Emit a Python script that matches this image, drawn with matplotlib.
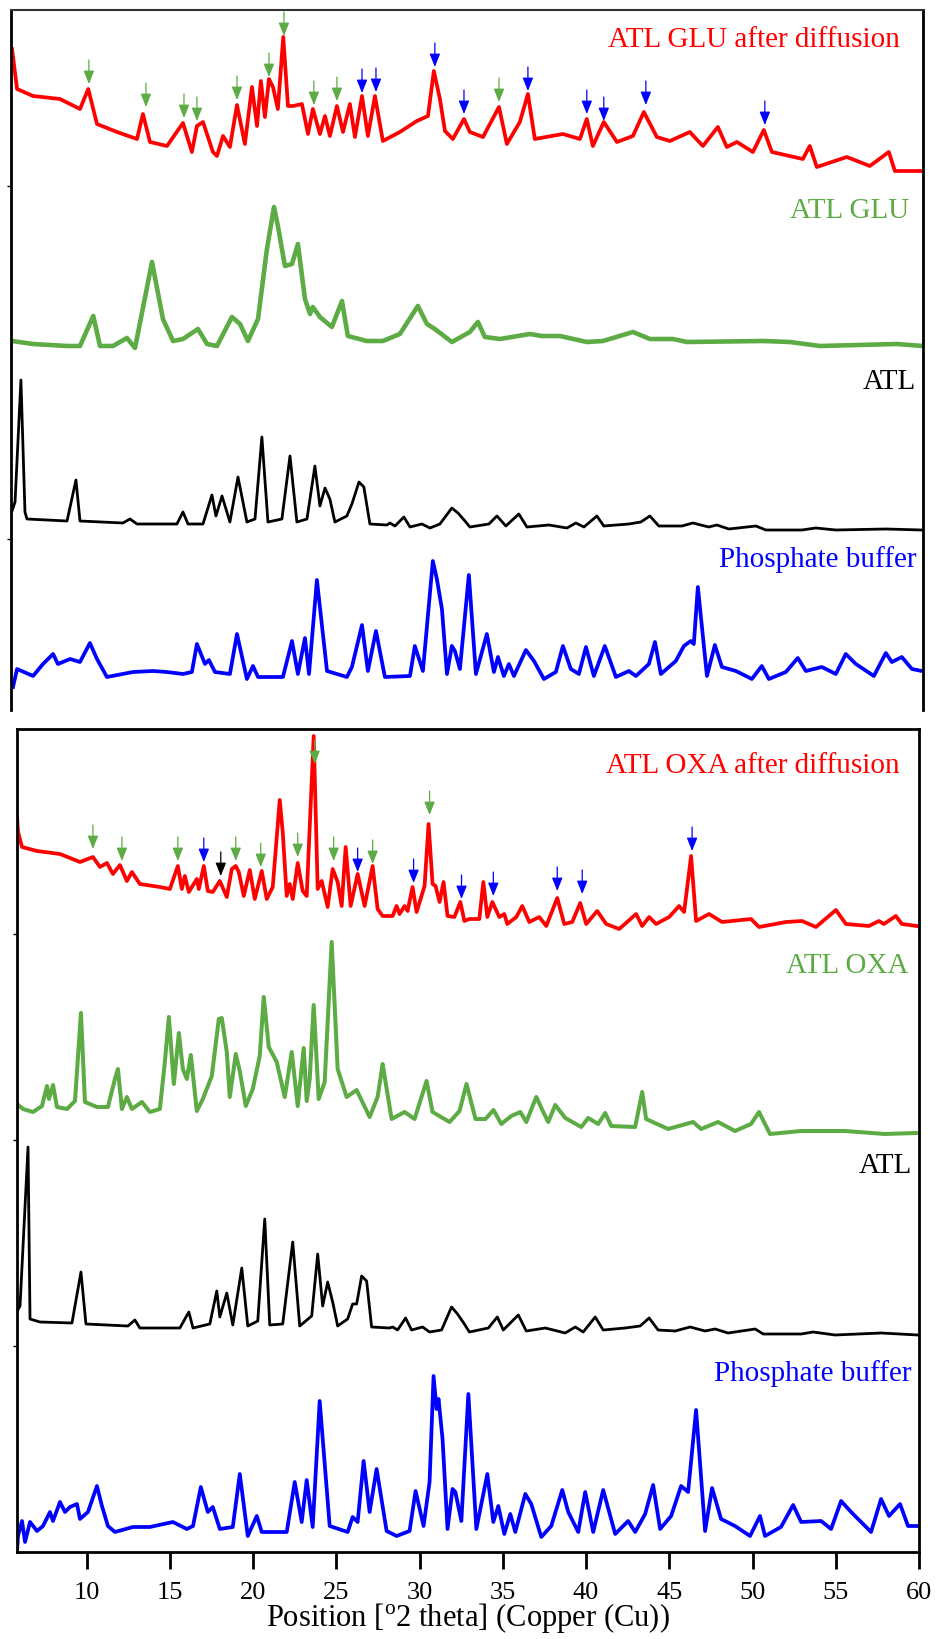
import numpy as np
import matplotlib.pyplot as plt

plt.rcParams['font.family'] = ['Liberation Serif', 'DejaVu Serif']
plt.rcParams['mathtext.fontset'] = 'custom'
plt.rcParams['mathtext.rm'] = 'Liberation Serif'

# shared 2theta axis
x_range = (5.8, 60)
x_ticks = [10, 15, 20, 25, 30, 35, 40, 45, 50, 55, 60]

# ---- top panel: (2theta, stacked intensity a.u.) ----
glu_after = [(5.86, 661), (6.16, 621), (7.11, 614), (8.71, 611), (9.90, 601), (10.39, 621), (10.91, 586),
             (12.10, 578), (13.29, 571), (13.64, 596), (14.06, 568), (15.07, 564), (16.02, 587), (16.55, 558),
             (16.85, 584), (17.21, 588), (17.80, 558), (18.04, 554), (18.40, 574), (18.81, 563), (19.23, 605),
             (19.70, 566), (20.12, 623), (20.42, 584), (20.65, 629), (20.89, 593), (21.13, 631), (21.37, 623),
             (21.66, 601), (21.98, 673), (22.26, 604), (22.56, 604), (23.09, 606), (23.45, 576), (23.74, 601),
             (24.16, 576), (24.46, 594), (24.75, 574), (25.17, 604), (25.53, 578), (25.94, 606), (26.24, 573),
             (26.66, 614), (27.01, 574), (27.43, 614), (27.90, 569), (28.91, 578), (29.92, 589), (30.58, 594),
             (30.93, 639), (31.29, 611), (31.59, 579), (32.06, 571), (32.72, 591), (33.07, 578), (33.85, 573),
             (34.80, 603), (35.27, 566), (36.04, 588), (36.52, 616), (36.93, 571), (38.60, 576), (39.61, 571),
             (40.02, 591), (40.38, 564), (41.03, 588), (41.81, 568), (42.76, 574), (43.41, 598), (44.18, 573),
             (44.96, 569), (46.14, 578), (46.92, 564), (47.81, 583), (48.34, 563), (48.94, 568), (49.89, 558),
             (50.54, 580), (51.02, 558), (52.86, 551), (53.27, 564), (53.69, 543), (55.47, 553), (56.84, 544),
             (57.97, 558), (58.33, 539), (59.99, 539)]

glu = [(5.86, 369), (7.11, 366), (9.13, 364), (9.90, 364), (10.69, 394), (11.09, 364), (11.86, 364), (12.69, 372),
       (13.17, 362), (14.18, 448), (14.83, 391), (15.43, 369), (16.02, 371), (16.91, 381), (17.45, 366), (18.04, 364),
       (18.93, 393), (19.41, 386), (19.88, 369), (20.48, 391), (21.01, 461), (21.43, 503), (21.66, 484), (22.08, 444),
       (22.50, 446), (22.85, 466), (23.27, 411), (23.57, 396), (23.74, 403), (24.16, 393), (24.87, 383), (25.47, 409),
       (25.82, 374), (26.95, 369), (27.90, 369), (28.91, 376), (29.98, 404), (30.52, 386), (30.99, 381), (32.00, 368),
       (33.07, 378), (33.55, 388), (33.96, 373), (34.86, 371), (36.64, 376), (37.35, 374), (38.42, 374), (40.02, 368),
       (40.98, 369), (42.76, 378), (43.77, 371), (45.13, 371), (45.97, 368), (50.48, 369), (52.09, 368), (53.87, 364),
       (58.45, 366), (59.99, 364)]

atl_top = [(5.86, 199), (6.04, 208), (6.39, 330), (6.63, 198), (6.75, 191), (9.13, 189), (9.66, 230), (9.90, 189),
           (12.45, 187), (12.87, 191), (13.29, 186), (15.66, 186), (16.02, 198), (16.32, 186), (17.21, 186),
           (17.74, 215), (17.98, 194), (18.34, 214), (18.81, 188), (19.29, 233), (19.82, 188), (20.30, 191),
           (20.71, 273), (21.07, 188), (21.90, 191), (22.38, 254), (22.79, 188), (23.39, 191), (23.86, 244),
           (24.16, 204), (24.46, 222), (24.75, 211), (25.05, 188), (25.76, 194), (26.06, 206), (26.48, 228),
           (26.77, 223), (27.13, 186), (28.14, 185), (28.32, 187), (28.62, 184), (29.15, 193), (29.51, 183),
           (30.22, 186), (30.70, 182), (31.29, 186), (32.00, 202), (32.36, 197), (32.78, 189), (33.07, 183),
           (34.20, 186), (34.68, 194), (35.21, 184), (35.98, 196), (36.46, 183), (37.77, 185), (38.84, 182),
           (39.37, 187), (39.85, 183), (40.62, 194), (41.03, 184), (42.52, 186), (43.23, 188), (43.77, 194),
           (44.30, 184), (45.67, 184), (46.32, 187), (47.27, 183), (47.75, 185), (48.46, 181), (50.07, 184),
           (50.66, 180), (52.80, 180), (53.63, 182), (54.82, 180), (57.79, 181), (59.93, 180)]

buffer_top = [(5.92, 23), (6.16, 41), (7.11, 34), (7.70, 46), (8.30, 56), (8.59, 46), (9.31, 51), (9.90, 48),
              (10.49, 67), (10.91, 51), (11.50, 33), (13.05, 38), (14.24, 39), (15.07, 38), (16.02, 36), (16.55, 38),
              (16.85, 66), (17.33, 46), (17.56, 50), (17.92, 38), (18.81, 36), (19.23, 76), (19.82, 31), (20.18, 44),
              (20.48, 33), (21.96, 33), (22.50, 69), (22.85, 36), (23.27, 72), (23.51, 36), (23.98, 130), (24.58, 39),
              (25.76, 33), (26.06, 43), (26.66, 85), (27.01, 39), (27.49, 79), (28.02, 33), (29.51, 34), (29.80, 64),
              (30.28, 39), (30.87, 149), (31.11, 131), (31.41, 101), (31.71, 36), (32.00, 64), (32.18, 59),
              (32.48, 41), (33.01, 135), (33.43, 36), (34.08, 76), (34.50, 38), (34.74, 53), (35.09, 34), (35.39, 46),
              (35.69, 34), (36.40, 60), (36.88, 49), (37.47, 31), (38.18, 38), (38.60, 64), (39.07, 41), (39.55, 36),
              (39.97, 63), (40.44, 34), (41.09, 64), (41.75, 33), (42.52, 39), (42.94, 34), (43.71, 46), (44.07, 68),
              (44.42, 36), (45.31, 49), (45.79, 64), (46.20, 69), (46.38, 66), (46.62, 123), (47.16, 34), (47.63, 65),
              (48.05, 43), (48.88, 39), (49.83, 31), (50.42, 44), (50.84, 31), (51.85, 38), (52.56, 52), (53.04, 39),
              (53.99, 43), (54.82, 36), (55.41, 56), (56.01, 46), (57.08, 34), (57.79, 57), (58.15, 48), (58.74, 53),
              (59.34, 41), (59.93, 39)]

# ---- bottom panel ----
oxa_after = [(5.82, 736), (5.88, 720), (6.12, 705), (7.02, 701), (8.40, 698), (9.60, 690), (10.38, 695), (10.80, 685),
             (11.22, 689), (11.58, 678), (12.00, 687), (12.42, 671), (12.72, 680), (13.20, 668), (14.40, 665),
             (15.00, 663), (15.48, 686), (15.72, 663), (15.90, 676), (16.14, 660), (16.62, 673), (16.74, 663),
             (17.04, 686), (17.28, 661), (17.58, 660), (18.00, 671), (18.42, 655), (18.72, 683), (18.96, 686),
             (19.14, 680), (19.44, 656), (19.80, 682), (20.10, 653), (20.52, 681), (20.82, 653), (21.18, 665),
             (21.60, 752), (21.78, 720), (22.02, 656), (22.20, 668), (22.38, 653), (22.68, 689), (22.98, 661),
             (23.22, 656), (23.64, 816), (23.88, 663), (24.12, 671), (24.48, 645), (24.78, 683), (25.08, 670),
             (25.32, 646), (25.56, 705), (25.86, 646), (26.28, 678), (26.70, 646), (27.18, 686), (27.48, 643),
             (27.78, 636), (28.38, 636), (28.62, 646), (28.80, 638), (29.10, 646), (29.28, 641), (29.58, 665),
             (29.82, 640), (30.30, 666), (30.54, 728), (30.78, 668), (30.96, 666), (31.20, 650), (31.44, 670),
             (31.68, 636), (32.09, 635), (32.45, 650), (32.69, 631), (32.99, 633), (33.59, 633), (33.83, 670),
             (34.07, 635), (34.37, 650), (34.79, 635), (35.09, 638), (35.27, 628), (35.81, 635), (36.17, 646),
             (36.59, 630), (37.19, 635), (37.61, 626), (38.27, 654), (38.69, 628), (39.17, 630), (39.65, 649),
             (40.01, 628), (40.67, 641), (41.21, 628), (41.99, 623), (43.01, 638), (43.37, 626), (43.79, 635),
             (44.21, 628), (44.99, 635), (45.59, 646), (45.89, 640), (46.31, 696), (46.61, 631), (47.39, 638),
             (48.17, 630), (49.91, 633), (50.39, 625), (52.01, 630), (52.97, 631), (53.81, 625), (55.01, 642),
             (55.61, 628), (56.99, 626), (57.59, 631), (57.89, 628), (58.61, 636), (58.97, 628), (59.87, 626)]

oxa = [(5.82, 448), (6.18, 443), (6.78, 440), (7.32, 446), (7.62, 466), (7.74, 453), (7.98, 467), (8.22, 445),
       (8.82, 443), (9.30, 451), (9.66, 539), (9.90, 450), (10.62, 445), (11.28, 445), (11.70, 473), (11.88, 483),
       (12.12, 443), (12.42, 455), (12.72, 443), (13.32, 450), (13.80, 440), (14.40, 443), (14.70, 490), (14.94, 535),
       (15.24, 468), (15.54, 519), (15.78, 483), (16.02, 473), (16.26, 497), (16.62, 441), (16.98, 453), (17.52, 476),
       (17.94, 533), (18.12, 534), (18.42, 500), (18.60, 455), (18.96, 498), (19.20, 481), (19.56, 446), (19.98, 463),
       (20.40, 496), (20.64, 555), (20.94, 505), (21.42, 490), (21.90, 455), (22.32, 500), (22.68, 446), (23.04, 504),
       (23.22, 451), (23.40, 473), (23.64, 547), (23.94, 453), (24.30, 470), (24.72, 610), (25.08, 483), (25.62, 455),
       (26.22, 462), (27.00, 435), (27.48, 455), (27.78, 488), (28.32, 433), (29.10, 440), (29.70, 433), (30.42, 471),
       (30.78, 440), (31.80, 430), (32.40, 441), (32.82, 468), (33.36, 433), (33.96, 433), (34.44, 442), (34.91, 428),
       (35.51, 436), (36.05, 440), (36.41, 430), (37.01, 455), (37.43, 440), (37.73, 430), (38.15, 447), (38.75, 434),
       (39.71, 425), (40.13, 434), (40.73, 428), (41.15, 439), (41.51, 426), (42.95, 425), (43.37, 460), (43.61, 433),
       (44.93, 423), (46.43, 430), (46.91, 423), (47.93, 430), (48.95, 421), (49.91, 428), (50.39, 440), (51.05, 418),
       (52.91, 421), (55.55, 421), (57.95, 418), (59.81, 419)]

atl_bottom = [(5.82, 241), (6.00, 246), (6.48, 405), (6.60, 233), (7.20, 230), (9.12, 229), (9.66, 280), (9.96, 228),
              (12.48, 226), (12.90, 232), (13.20, 224), (15.60, 224), (16.14, 240), (16.39, 224), (17.40, 228),
              (17.82, 261), (18.00, 235), (18.42, 259), (18.78, 227), (19.32, 284), (19.68, 226), (20.28, 231),
              (20.70, 333), (21.00, 227), (21.78, 228), (22.38, 310), (22.80, 226), (23.52, 236), (23.88, 298),
              (24.18, 246), (24.48, 270), (24.78, 250), (25.08, 226), (25.68, 233), (25.98, 248), (26.22, 248),
              (26.52, 276), (26.82, 271), (27.12, 225), (28.20, 224), (28.38, 225), (28.68, 222), (29.16, 234),
              (29.52, 222), (30.18, 225), (30.60, 220), (31.32, 222), (31.92, 245), (32.28, 238), (32.69, 228),
              (32.99, 220), (34.13, 224), (34.67, 235), (35.03, 222), (35.93, 237), (36.41, 221), (37.55, 224),
              (38.75, 219), (39.35, 225), (39.83, 220), (40.55, 235), (41.03, 222), (42.35, 224), (43.25, 226),
              (43.79, 234), (44.33, 222), (45.35, 221), (46.25, 225), (47.15, 221), (47.75, 223), (48.53, 219),
              (50.16, 223), (50.64, 218), (52.92, 218), (53.64, 220), (54.96, 217), (57.72, 219), (59.93, 217)]

buffer_bottom = [(5.82, 1), (5.88, 16), (6.12, 31), (6.30, 10), (6.60, 30), (7.02, 21), (7.38, 26), (7.80, 40),
                 (7.98, 31), (8.40, 50), (8.70, 40), (9.00, 45), (9.42, 48), (9.60, 33), (10.08, 40), (10.62, 66),
                 (10.92, 46), (11.28, 26), (11.70, 20), (12.78, 25), (13.80, 25), (15.18, 30), (16.02, 23), (16.39, 26),
                 (16.86, 65), (17.28, 40), (17.58, 45), (18.00, 23), (18.78, 25), (19.20, 78), (19.68, 16), (20.22, 36),
                 (20.52, 20), (22.02, 20), (22.50, 70), (22.92, 30), (23.22, 72), (23.58, 25), (24.00, 151), (24.60, 26),
                 (25.68, 20), (25.98, 35), (26.28, 30), (26.64, 91), (27.00, 40), (27.42, 83), (28.02, 21), (28.62, 16),
                 (29.40, 21), (29.76, 61), (30.24, 26), (30.60, 70), (30.84, 176), (31.02, 143), (31.14, 153),
                 (31.38, 113), (31.68, 23), (31.98, 63), (32.15, 60), (32.51, 31), (32.93, 158), (33.41, 23),
                 (34.07, 78), (34.43, 30), (34.73, 46), (35.09, 18), (35.45, 38), (35.75, 20), (36.35, 58), (36.71, 48),
                 (37.31, 15), (37.91, 26), (38.57, 62), (38.93, 40), (39.53, 20), (39.95, 60), (40.43, 20), (41.03, 62),
                 (41.75, 18), (42.53, 31), (42.95, 20), (43.55, 38), (44.03, 67), (44.45, 23), (45.11, 36), (45.71, 66),
                 (46.13, 60), (46.61, 142), (47.15, 21), (47.57, 64), (48.11, 33), (48.95, 26), (49.85, 16), (50.45, 36),
                 (50.75, 16), (51.71, 25), (52.44, 47), (52.92, 30), (54.12, 31), (54.72, 23), (55.32, 51), (55.92, 40),
                 (57.12, 20), (57.72, 53), (58.20, 36), (58.86, 48), (59.34, 26), (59.93, 26)]

# marker arrows over the "after diffusion" traces: (2theta, tip height, colour key)
glu_arrows = [(10.43, 626, 'g'), (13.82, 603, 'g'), (16.08, 592, 'g'), (16.85, 589, 'g'), (19.23, 610, 'g'),
              (21.13, 633, 'g'), (22.02, 674, 'g'), (23.80, 605, 'g'), (25.17, 609, 'g'), (26.66, 617, 'b'),
              (27.49, 618, 'b'), (30.99, 643, 'b'), (32.72, 596, 'b'), (34.80, 608, 'g'), (36.52, 619, 'b'),
              (40.02, 596, 'b'), (41.03, 589, 'b'), (43.53, 605, 'b'), (50.60, 585, 'b')]
oxa_arrows = [(10.38, 703, 'g'), (12.12, 691, 'g'), (15.48, 691, 'g'), (17.04, 690, 'b'), (18.06, 676, 'k'),
              (18.96, 691, 'g'), (20.46, 685, 'g'), (22.68, 695, 'g'), (23.70, 788, 'g'), (24.84, 691, 'g'),
              (26.28, 680, 'b'), (27.18, 688, 'g'), (29.64, 669, 'b'), (30.60, 737, 'g'), (32.52, 653, 'b'),
              (34.43, 656, 'b'), (38.27, 661, 'b'), (39.77, 658, 'b'), (46.37, 701, 'b')]

top_names = ['ATL GLU after diffusion', 'ATL GLU', 'ATL', 'Phosphate buffer']
bottom_names = ['ATL OXA after diffusion', 'ATL OXA', 'ATL', 'Phosphate buffer']

RED, GREEN, BLUE = '#ff0000', '#5dab45', '#0000ff'
arrow_col = {'g': '#5dab45', 'b': '#0000ff', 'k': '#000000'}
colors = [RED, GREEN, 'black', BLUE]

fig = plt.figure(figsize=(9.39, 16.4), dpi=100)
ax1 = fig.add_axes([11 / 939, 1 - 711 / 1640, 912 / 939, 700 / 1640])
ax2 = fig.add_axes([16.7 / 939, 1 - 1553 / 1640, 902.3 / 939, 823 / 1640])


def draw(ax, traces, widths, names, label_pos, arrows, ymax):
    for tr, c, lw in zip(traces, colors, widths):
        tr = np.array(tr)
        ax.plot(tr[:, 0], tr[:, 1], color=c, lw=lw, solid_joinstyle='round')
    for name, c, (tx, ty) in zip(names, colors, label_pos):
        ax.text(tx, ty, name, color=c, fontsize=21, ha='right', va='baseline', transform=ax.transAxes)
    for x, y, k in arrows:
        ax.annotate('', xy=(x, y), xytext=(x, y + 24),
                    arrowprops=dict(arrowstyle='-|>,head_width=0.32,head_length=0.8', color=arrow_col[k],
                                    lw=0.9, mutation_scale=10, shrinkA=0, shrinkB=0), zorder=5)
    ax.set_xlim(*x_range)
    ax.set_ylim(0, ymax)


draw(ax1, [glu_after, glu, atl_top, buffer_top], [2.7, 3.3, 2.0, 2.7], top_names,
     [(0.975, 0.949), (0.985, 0.704), (0.992, 0.46), (0.993, 0.206)], glu_arrows, 700)
draw(ax2, [oxa_after, oxa, atl_bottom, buffer_bottom], [2.7, 2.9, 2.0, 2.7], bottom_names,
     [(0.979, 0.948), (0.988, 0.705), (0.992, 0.462), (0.992, 0.209)], oxa_arrows, 823)

# top panel: no bottom axis
ax1.spines['bottom'].set_visible(False)
ax1.spines['top'].set_color('#333333')
ax1.spines['top'].set_linewidth(1.5)
for s in ['left', 'right']:
    ax1.spines[s].set_linewidth(2)
ax1.set_xticks([])
ax1.set_yticks([171, 524])
ax1.tick_params(axis='y', length=3, width=1, labelleft=False)

for s in ax2.spines.values():
    s.set_linewidth(2)
ax2.set_xticks(x_ticks)
ax2.tick_params(axis='x', length=12, width=2, labelsize=19, pad=9)
ax2.set_yticks([206, 412, 618])
ax2.tick_params(axis='y', length=3, width=1, labelleft=False)
ax2.set_xlabel('Position [$^{\\rm o}$2 theta] (Copper (Cu))', fontsize=22, labelpad=-2)

fig.savefig('out.png', dpi=100)
